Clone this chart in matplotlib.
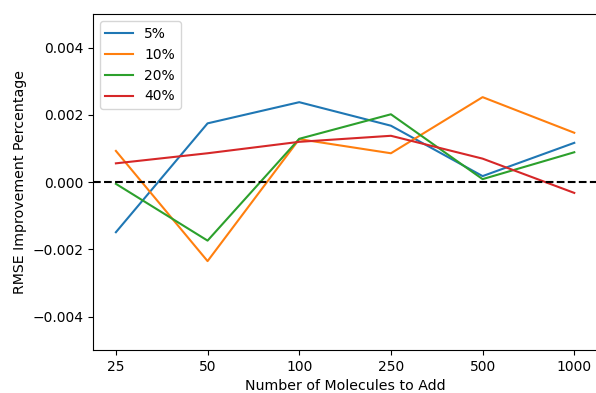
import matplotlib
matplotlib.use("Agg")
import matplotlib.pyplot as plt
import numpy as np

molecules = ["25", "50", "100", "250", "500", "1000"]
series_labels = ["5%", "10%", "20%", "40%"]
rmse_5 = [-1.49e-3, 1.75e-3, 2.38e-3, 1.68e-3, 0.18e-3, 1.17e-3]
rmse_10 = [0.93e-3, -2.35e-3, 1.28e-3, 0.86e-3, 2.53e-3, 1.47e-3]
rmse_20 = [-0.05e-3, -1.74e-3, 1.29e-3, 2.02e-3, 0.09e-3, 0.89e-3]
rmse_40 = [0.56e-3, 0.86e-3, 1.20e-3, 1.38e-3, 0.70e-3, -0.32e-3]

fig = plt.figure(figsize=(5.96, 3.93), dpi=100)
ax = fig.add_axes([0.156, 0.109, 0.846, 0.855])

x = np.arange(len(molecules))
for vals, lab in zip([rmse_5, rmse_10, rmse_20, rmse_40], series_labels):
    ax.plot(x, vals, label=lab, linewidth=1.5)

ax.axhline(0, color="black", linestyle="--", linewidth=1.5)
ax.set_xticks(x)
ax.set_xticklabels(molecules)
ax.set_xlim(-0.25, 5.25)
ax.set_ylim(-0.005, 0.005)
ax.set_yticks([-0.004, -0.002, 0.0, 0.002, 0.004])
ax.set_yticklabels(["\u22120.004", "\u22120.002", "0.000", "0.002", "0.004"])
ax.set_xlabel("Number of Molecules to Add", fontsize=10.2)
ax.set_ylabel("RMSE Improvement Percentage", fontsize=10.2)
ax.spines["right"].set_visible(False)
ax.legend(loc="upper left")

fig.savefig("out.png", dpi=100)
